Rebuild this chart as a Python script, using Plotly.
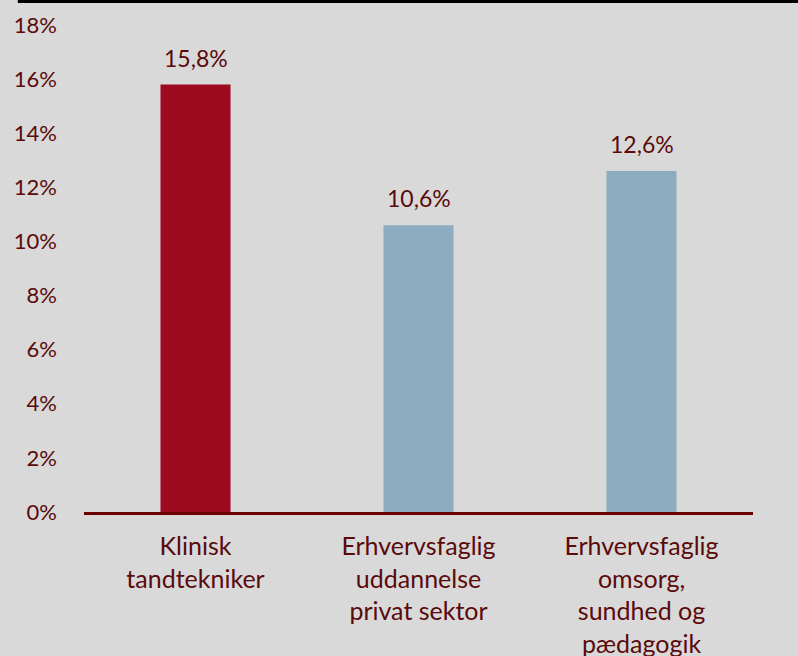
import plotly.graph_objects as go

categories = ["Klinisk<br>tandtekniker",
              "Erhvervsfaglig<br>uddannelse<br>privat sektor",
              "Erhvervsfaglig<br>omsorg,<br>sundhed og<br>pædagogik"]
values = [15.8, 10.6, 12.6]
bar_colors = ["#9c0b1e", "#8eacbf"]
tick_values = [0, 2, 4, 6, 8, 10, 12, 14, 16, 18]
tick_labels = [f"{v}%" for v in tick_values]

text_color = "#5a0a0a"
labels = [f"{v:.1f}%".replace(".", ",") for v in values]

fig = go.Figure()
fig.add_trace(go.Bar(
    x=categories,
    y=values,
    marker=dict(color=[bar_colors[0], bar_colors[1], bar_colors[1]], line=dict(width=0)),
    width=0.314,
    showlegend=False,
))

# value labels above the bars
for c, v, t in zip(categories, values, labels):
    fig.add_annotation(x=c, y=v, text=t, showarrow=False, yanchor="bottom",
                       yshift=11, font=dict(size=23, color=text_color))

# black rule along the top of the chart
fig.add_shape(type="line", xref="paper", yref="paper",
              x0=-0.099, x1=1.07, y0=1.048, y1=1.048,
              line=dict(color="black", width=3))

fig.update_layout(
    width=798, height=656,
    margin=dict(l=84, r=45, t=25, b=144),
    paper_bgcolor="#d9d9d9",
    plot_bgcolor="#d9d9d9",
    font=dict(family="Lato", size=22, color=text_color),
    xaxis=dict(showline=True, linecolor="#6b0000", linewidth=3,
               showgrid=False, ticks="", tickfont=dict(size=25),
               ticklabelstandoff=10, automargin=False),
    yaxis=dict(range=[0, 18], tickvals=tick_values, ticktext=tick_labels,
               showgrid=False, zeroline=False, showline=False,
               ticklabelstandoff=26, tickfont=dict(size=22), automargin=False),
)

fig.write_html("out.html", config={"displayModeBar": False},
               post_script="document.body.style.margin='0';")
